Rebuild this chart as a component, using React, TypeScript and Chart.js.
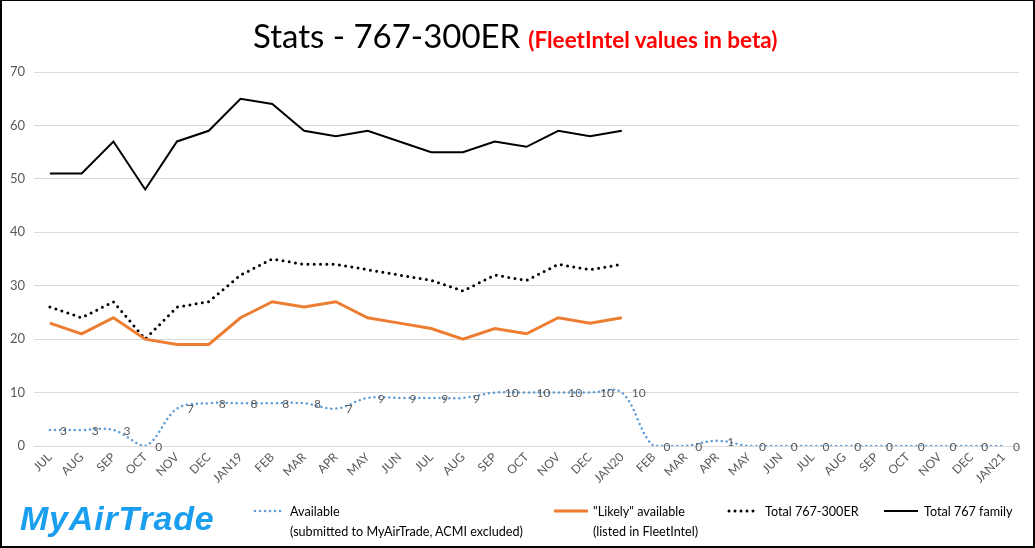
import React, { useEffect, useRef } from "react";
import { Chart, registerables } from "chart.js";

Chart.register(...registerables);

const categories = [
  "JUL", "AUG", "SEP", "OCT", "NOV", "DEC", "JAN19", "FEB", "MAR", "APR", "MAY", "JUN",
  "JUL", "AUG", "SEP", "OCT", "NOV", "DEC", "JAN20", "FEB", "MAR", "APR", "MAY", "JUN",
  "JUL", "AUG", "SEP", "OCT", "NOV", "DEC", "JAN21",
];

const available = [3, 3, 3, 0, 7, 8, 8, 8, 8, 7, 9, 9, 9, 9, 10, 10, 10, 10, 10, 0, 0, 1, 0, 0, 0, 0, 0, 0, 0, 0, 0];
const likelyAvailable = [23, 21, 24, 20, 19, 19, 24, 27, 26, 27, 24, 23, 22, 20, 22, 21, 24, 23, 24];
const total300ER = [26, 24, 27, 20, 26, 27, 32, 35, 34, 34, 33, 32, 31, 29, 32, 31, 34, 33, 34];
const total767 = [51, 51, 57, 48, 57, 59, 65, 64, 59, 58, 59, 57, 55, 55, 57, 56, 59, 58, 59];

const yTicks = [0, 10, 20, 30, 40, 50, 60, 70];

const seriesNames = [
  ["Available", "(submitted to MyAirTrade, ACMI excluded)"],
  ["\"Likely\" available", "(listed in FleetIntel)"],
  ["Total 767-300ER"],
  ["Total 767 family"],
];

const BLUE = "#5b9bd5";
const ORANGE = "#ed7d31";
const FONT = "Lato, 'Open Sans', sans-serif";

const labelPlugin = {
  id: "availLabels",
  afterDatasetsDraw(chart: any) {
    const meta = chart.getDatasetMeta(0);
    const ctx = chart.ctx;
    ctx.save();
    ctx.fillStyle = "#595959";
    ctx.font = `12px ${FONT}`;
    ctx.textAlign = "left";
    ctx.textBaseline = "middle";
    meta.data.forEach((pt: any, i: number) => {
      ctx.fillText(String(available[i]), pt.x + 10, pt.y + 1);
    });
    ctx.restore();
  },
};

function Sample({ kind }: { kind: number }) {
  const w = 34;
  if (kind === 0)
    return (
      <svg width={w} height="6" style={{ display: "block" }}>
        <line x1="2" y1="3" x2={w - 2} y2="3" stroke={BLUE} strokeWidth="2.5" strokeDasharray="0 5" strokeLinecap="round" />
      </svg>
    );
  if (kind === 1)
    return (
      <svg width={w} height="6" style={{ display: "block" }}>
        <line x1="0" y1="3" x2={w} y2="3" stroke={ORANGE} strokeWidth="3" />
      </svg>
    );
  if (kind === 2)
    return (
      <svg width={w} height="6" style={{ display: "block" }}>
        <line x1="2" y1="3" x2={w - 2} y2="3" stroke="#000" strokeWidth="3" strokeDasharray="0 6" strokeLinecap="round" />
      </svg>
    );
  return (
    <svg width={w} height="6" style={{ display: "block" }}>
      <line x1="0" y1="3" x2={w} y2="3" stroke="#000" strokeWidth="2" />
    </svg>
  );
}

export default function App() {
  const ref = useRef<HTMLCanvasElement>(null);

  useEffect(() => {
    document.body.style.margin = "0";
    const chart = new Chart(ref.current!, {
      type: "line",
      data: {
        labels: categories,
        datasets: [
          {
            label: seriesNames[0].join(" "),
            data: available,
            borderColor: BLUE,
            borderWidth: 2.5,
            borderDash: [0, 5],
            borderCapStyle: "round",
            tension: 0.35,
            pointRadius: 0,
            fill: false,
          },
          {
            label: seriesNames[1].join(" "),
            data: likelyAvailable,
            borderColor: ORANGE,
            borderWidth: 3,
            pointRadius: 0,
            tension: 0,
            fill: false,
          },
          {
            label: seriesNames[2].join(" "),
            data: total300ER,
            borderColor: "#000",
            borderWidth: 3,
            borderDash: [0, 6.3],
            borderCapStyle: "round",
            pointRadius: 0,
            tension: 0,
            fill: false,
          },
          {
            label: seriesNames[3].join(" "),
            data: total767,
            borderColor: "#000",
            borderWidth: 2,
            pointRadius: 0,
            tension: 0,
            fill: false,
          },
        ],
      },
      options: {
        animation: false,
        responsive: false,
        maintainAspectRatio: false,
        layout: { padding: { left: 0, right: 14, top: 71, bottom: 60 } },
        plugins: {
          legend: { display: false },
          title: { display: false },
          tooltip: { enabled: false },
        },
        scales: {
          x: {
            offset: true,
            grid: { display: false, drawTicks: false },
            border: { display: false },
            ticks: {
              autoSkip: false,
              maxRotation: 45,
              minRotation: 45,
              color: "#595959",
              font: { family: FONT, size: 12 },
              padding: 4,
            },
            afterFit: (s: any) => {
              s.height = 40;
            },
          },
          y: {
            min: 0,
            max: 70,
            afterBuildTicks: (s: any) => {
              s.ticks = yTicks.map((v) => ({ value: v }));
            },
            grid: { color: "#d9d9d9", lineWidth: 1, drawTicks: false },
            border: { display: false },
            ticks: {
              color: "#595959",
              font: { family: FONT, size: 13 },
              padding: 9,
            },
            afterFit: (s: any) => {
              s.width = 32;
            },
          },
        },
      },
      plugins: [labelPlugin],
    });
    return () => chart.destroy();
  }, []);

  const legendPos = [
    { sample: 253, text: 290 },
    { sample: 554, text: 593 },
    { sample: 727, text: 765 },
    { sample: 884, text: 924 },
  ];

  return (
    <div
      style={{
        position: "relative",
        width: 1035,
        height: 548,
        boxSizing: "border-box",
        borderStyle: "solid",
        borderColor: "#000",
        borderWidth: "1px 2px 2px 2px",
        background: "#fff",
        fontFamily: FONT,
        overflow: "hidden",
      }}
    >
      <canvas ref={ref} width={1031} height={545} style={{ position: "absolute", left: 0, top: 0 }} />
      <div
        style={{
          position: "absolute",
          left: 251,
          top: 14,
          whiteSpace: "nowrap",
          lineHeight: "40px",
        }}
      >
        <span style={{ fontSize: 33, color: "#000" }}>Stats - 767-300ER</span>
        <span style={{ fontSize: 22.5, color: "#ff0000", fontWeight: 700, marginLeft: 8 }}>
          (FleetIntel values in beta)
        </span>
      </div>
      <div
        style={{
          position: "absolute",
          left: 18,
          top: 496,
          fontSize: 34,
          fontWeight: 900,
          fontStyle: "italic",
          color: "#1a9ef0",
          fontFamily: "'Liberation Sans', Arial, sans-serif",
          lineHeight: "42px",
          letterSpacing: 0.8,
          whiteSpace: "nowrap",
        }}
      >
        MyAirTrade
      </div>
      {seriesNames.map((lines, i) => (
        <React.Fragment key={i}>
          <div style={{ position: "absolute", left: legendPos[i].sample - 2, top: 507 }}>
            <Sample kind={i} />
          </div>
          <div
            style={{
              position: "absolute",
              left: legendPos[i].text - 2,
              top: 501,
              fontSize: 12.6,
              lineHeight: "20px",
              color: "#000",
              whiteSpace: "nowrap",
            }}
          >
            {lines.map((l, j) => (
              <div key={j}>{l}</div>
            ))}
          </div>
        </React.Fragment>
      ))}
    </div>
  );
}
